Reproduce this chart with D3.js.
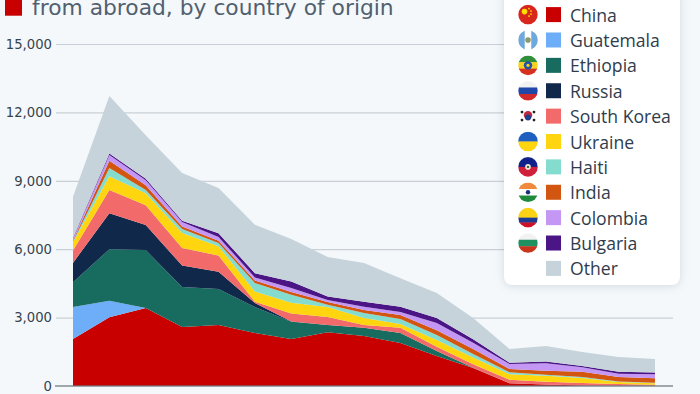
<!DOCTYPE html>
<html>
<head>
<meta charset="utf-8">
<script src="https://cdn.jsdelivr.net/npm/d3@7.9.0/dist/d3.min.js"></script>
<style>
  html, body { margin: 0; padding: 0; background: #f4f8fb; overflow: hidden; }
  svg { display: block; }
  .tick text { font-family: "DejaVu Sans", sans-serif; font-size: 13.2px; fill: #36434f; }
  .legend-box { filter: drop-shadow(0 1px 4px rgba(60, 80, 100, 0.18)); }
  .legend-label { font-family: "Open Sans", sans-serif; font-size: 17.6px; fill: #2f3c4c; }
</style>
</head>
<body>
<svg id="chart" width="700" height="394"></svg>
<script>
// Series in stacking order
const countries = ['China', 'Guatemala', 'Ethiopia', 'Russia', 'South Korea', 'Ukraine', 'Haiti', 'India', 'Colombia', 'Bulgaria', 'Other'];
const colors = ['#c80000', '#6eadf8', '#176b5f', '#10284a', '#f26a6a', '#ffd510', '#84dccf', '#d2560f', '#c497f5', '#4b1585', '#c6d3da'];
const yTicks = [0, 3000, 6000, 9000, 12000, 15000];

const china = [2060, 3020, 3420, 2590, 2680, 2320, 2060, 2360, 2190, 1890, 1320, 790, 120, 70, 20, 10, 10];
const guatemala = [1410, 720, 0, 0, 0, 0, 0, 0, 0, 0, 0, 0, 0, 0, 0, 0, 0];
const ethiopia = [1080, 2260, 2540, 1750, 1570, 1150, 760, 310, 360, 430, 210, 10, 0, 0, 0, 0, 0];
const russia = [850, 1580, 1100, 940, 760, 170, 10, 0, 0, 0, 10, 0, 0, 0, 0, 0, 0];
const southKorea = [540, 1020, 870, 770, 710, 60, 350, 360, 120, 230, 180, 150, 150, 120, 110, 80, 50];
const ukraine = [360, 600, 520, 660, 410, 450, 470, 430, 310, 170, 300, 300, 250, 260, 220, 80, 60];
const haiti = [40, 360, 150, 180, 140, 370, 350, 100, 220, 220, 220, 150, 80, 40, 40, 30, 20];
const india = [40, 320, 200, 110, 100, 110, 120, 120, 130, 170, 210, 220, 150, 180, 240, 200, 200];
const colombia = [90, 250, 220, 190, 170, 130, 180, 90, 150, 140, 310, 280, 210, 330, 190, 140, 180];
const bulgaria = [30, 70, 70, 60, 160, 190, 280, 150, 220, 230, 220, 150, 60, 70, 60, 80, 70];
const other = [1800, 2520, 1910, 2090, 1980, 2120, 1870, 1740, 1690, 1250, 1100, 930, 600, 680, 610, 650, 590];

const seriesValues = [china, guatemala, ethiopia, russia, southKorea, ukraine, haiti, india, colombia, bulgaria, other];

// Flag stripes and emblem dots per legend row
const flagStripes = [
  { colors: ['#d8261c'], dir: 'h' },
  { colors: ['#6fa8dc', '#ffffff', '#6fa8dc'], dir: 'v' },
  { colors: ['#2f8f3a', '#f4d21f', '#d8301f'], dir: 'h' },
  { colors: ['#f2f2f2', '#1f48a8', '#d02a2a'], dir: 'h' },
  { colors: ['#ffffff'], dir: 'h' },
  { colors: ['#1f5fbf', '#ffd510'], dir: 'h' },
  { colors: ['#10218a', '#d01f3a'], dir: 'h' },
  { colors: ['#f08a3c', '#ffffff', '#1f8a3c'], dir: 'h' },
  { colors: ['#fcd116', '#fcd116', '#1f3a93', '#ce1126'], dir: 'h' },
  { colors: ['#f2f2f2', '#1f9060', '#c8341c'], dir: 'h' }
];
const flagDots = [
  [['#ffde00', 2.8, -3.5, -3], ['#ffde00', 0.9, 1, -6], ['#ffde00', 0.9, 3, -3.5], ['#ffde00', 0.9, 3, -0.5], ['#ffde00', 0.9, 1, 1.5]],
  [['#8a9a6a', 2.8, 0, 0]],
  [['#2050a8', 4.2, 0, 0], ['#f4d21f', 1.6, 0, 0]],
  [],
  [['#c0283c', 4.2, 0, -0.8], ['#1f3f8f', 3, 0, 1.4], ['#222222', 1.4, -6, -4], ['#222222', 1.4, 6, -4], ['#222222', 1.4, -6, 4], ['#222222', 1.4, 6, 4]],
  [],
  [['#f0e8d8', 2.8, 0, 0], ['#2f6a3c', 1.2, 0, 0]],
  [['#1a2f80', 2.2, 0, 0]],
  [],
  []
];

const svg = d3.select('#chart');

const x = d3.scaleLinear().domain([0, china.length - 1]).range([73, 655]);
const y = d3.scaleLinear().domain([0, 15000]).range([386, 44]);

// Grid + tick labels
const yAxis = d3.axisLeft(y).tickValues(yTicks).tickFormat(d3.format(',')).tickSize(-617).tickPadding(4);
const axisG = svg.append('g').attr('transform', 'translate(56,0)').call(yAxis);
axisG.select('.domain').remove();
axisG.selectAll('.tick line')
  .attr('stroke', d => d === 0 ? 'none' : '#c9d0d7')
  .attr('stroke-width', 1.2);

// Stacked areas
const rows = china.map((_, i) => {
  const row = {};
  countries.forEach((c, k) => { row[c] = seriesValues[k][i]; });
  return row;
});
const stacked = d3.stack().keys(countries)(rows);
const area = d3.area()
  .x((d, i) => x(i))
  .y0(d => y(d[0]))
  .y1(d => y(d[1]));

svg.append('g').selectAll('path')
  .data(stacked)
  .join('path')
  .attr('d', area)
  .attr('fill', (d, i) => colors[i]);

// Zero line sits on top of the areas
svg.append('line')
  .attr('x1', 55).attr('x2', 673)
  .attr('y1', y(0)).attr('y2', y(0))
  .attr('stroke', '#6f777e')
  .attr('stroke-opacity', 0.85)
  .attr('stroke-width', 1.6);

// Title, cut off by the top of the frame as in the reference
svg.append('rect').attr('x', 5).attr('y', -2).attr('width', 17).attr('height', 17.7).attr('fill', '#c80000');
svg.append('text')
  .attr('x', 32).attr('y', 15)
  .attr('font-family', '"DejaVu Sans", sans-serif')
  .attr('font-size', 21.8)
  .attr('fill', '#51606f')
  .text('from abroad, by country of origin');

// Legend
const legend = svg.append('g');
legend.append('rect')
  .attr('class', 'legend-box')
  .attr('x', 504).attr('y', -12).attr('width', 176).attr('height', 297).attr('rx', 8)
  .attr('fill', '#ffffff');

const defs = svg.append('defs');
const rowY = d3.scaleLinear().domain([0, countries.length - 1]).range([14.6, 268.4]);

countries.forEach((name, i) => {
  const cy = rowY(i);
  legend.append('rect')
    .attr('x', 546).attr('y', cy - 7.5).attr('width', 15).attr('height', 15)
    .attr('fill', colors[i]);
  legend.append('text')
    .attr('class', 'legend-label')
    .attr('x', 570).attr('y', cy + 7)
    .text(name);

  const flag = flagStripes[i];
  if (!flag) return;
  const cx = 528, r = 9.8;
  defs.append('clipPath').attr('id', 'flag' + i)
    .append('circle').attr('cx', cx).attr('cy', cy).attr('r', r);
  const g = legend.append('g').attr('clip-path', `url(#flag${i})`);
  const n = flag.colors.length;
  flag.colors.forEach((col, k) => {
    if (flag.dir === 'h') {
      g.append('rect').attr('x', cx - r).attr('y', cy - r + k * 2 * r / n)
        .attr('width', 2 * r).attr('height', 2 * r / n + 0.3).attr('fill', col);
    } else {
      g.append('rect').attr('x', cx - r + k * 2 * r / n).attr('y', cy - r)
        .attr('width', 2 * r / n + 0.3).attr('height', 2 * r).attr('fill', col);
    }
  });
  flagDots[i].forEach(([color, dotR, dx, dy]) => {
    g.append('circle').attr('cx', cx + dx).attr('cy', cy + dy).attr('r', dotR).attr('fill', color);
  });
});
</script>
</body>
</html>
